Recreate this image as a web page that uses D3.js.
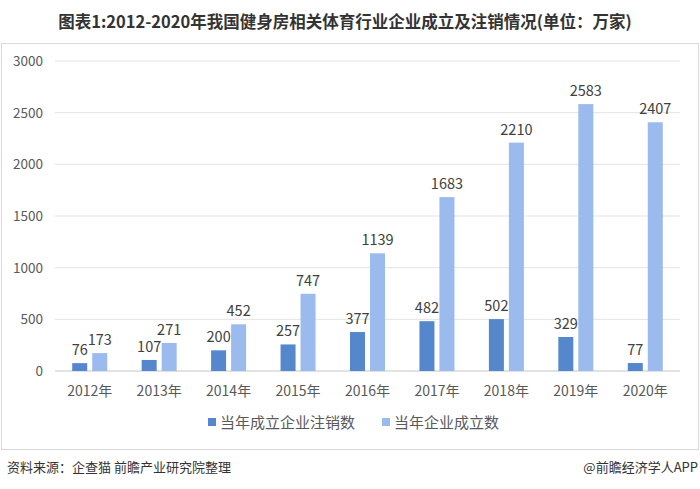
<!DOCTYPE html>
<html><head><meta charset="utf-8">
<script src="https://cdn.jsdelivr.net/npm/d3@7"></script>
<style>body{margin:0;background:#fff;}svg{display:block;font-family:"Microsoft YaHei","Noto Sans CJK SC",sans-serif;}</style>
</head><body><svg id="c" width="700" height="489"></svg>
<script>
const categories = ["2012年","2013年","2014年","2015年","2016年","2017年","2018年","2019年","2020年"];
const cancelled = [76,107,200,257,377,482,502,329,77];
const founded = [173,271,452,747,1139,1683,2210,2583,2407];
const seriesNames = ["当年成立企业注销数","当年企业成立数"];
const yTicks = [0,500,1000,1500,2000,2500,3000];
const colors = ["#5587cc","#9bbaee"];

const svg = d3.select("#c");
svg.append("text").attr("x",345).attr("y",28).attr("text-anchor","middle")
  .attr("font-size",16.5).attr("font-weight","bold").attr("fill","#333")
  .text("图表1:2012-2020年我国健身房相关体育行业企业成立及注销情况(单位：万家)");
svg.append("rect").attr("x",1.5).attr("y",43.5).attr("width",697).attr("height",406)
  .attr("fill","none").attr("stroke","#d9d9d9");

const x = d3.scaleBand().domain(categories).range([55,680]);
const y = d3.scaleLinear().domain([0,3000]).range([371,61]);

const g = svg.append("g");
g.selectAll(".grid").data(yTicks).join("line")
  .attr("x1",55).attr("x2",680).attr("y1",d=>y(d)).attr("y2",d=>y(d))
  .attr("stroke",d=>d===0?"#d9d9d9":"#e3e3e3").attr("stroke-width",d=>d===0?1.5:1);
g.selectAll(".yt").data(yTicks).join("text")
  .attr("x",43).attr("y",d=>y(d)+5).attr("text-anchor","end")
  .attr("font-size",13.5).attr("fill","#595959").text(d=>d);
g.selectAll(".xt").data(categories).join("text")
  .attr("x",d=>x(d)+x.bandwidth()/2).attr("y",396).attr("text-anchor","middle")
  .attr("font-size",14).attr("fill","#595959").text(d=>d);

const bw = 15, gap = 5;
const series = [cancelled, founded];
series.forEach((vals,si)=>{
  const off = si===0 ? -(bw+gap/2) : gap/2;
  g.selectAll(".b"+si).data(vals).join("rect")
    .attr("x",(d,i)=>x(categories[i])+x.bandwidth()/2+off)
    .attr("y",d=>y(d)).attr("width",bw).attr("height",d=>y(0)-y(d))
    .attr("fill",colors[si]);
  g.selectAll(".l"+si).data(vals).join("text")
    .attr("x",(d,i)=>x(categories[i])+x.bandwidth()/2+off+bw/2)
    .attr("y",d=>y(d)-8).attr("text-anchor","middle")
    .attr("font-size",14.5).attr("fill","#404040").text(d=>d);
});

const legX = [208,382];
seriesNames.forEach((n,i)=>{
  svg.append("rect").attr("x",legX[i]).attr("y",418).attr("width",8).attr("height",8).attr("fill",colors[i]);
  svg.append("text").attr("x",legX[i]+12).attr("y",428).attr("font-size",15).attr("fill","#595959").text(n);
});

svg.append("text").attr("x",7).attr("y",472).attr("font-size",13).attr("fill","#333").text("资料来源：企查猫 前瞻产业研究院整理");
svg.append("text").attr("x",698).attr("y",472).attr("text-anchor","end").attr("font-size",13).attr("fill","#333").text("@前瞻经济学人APP");
</script></body></html>
